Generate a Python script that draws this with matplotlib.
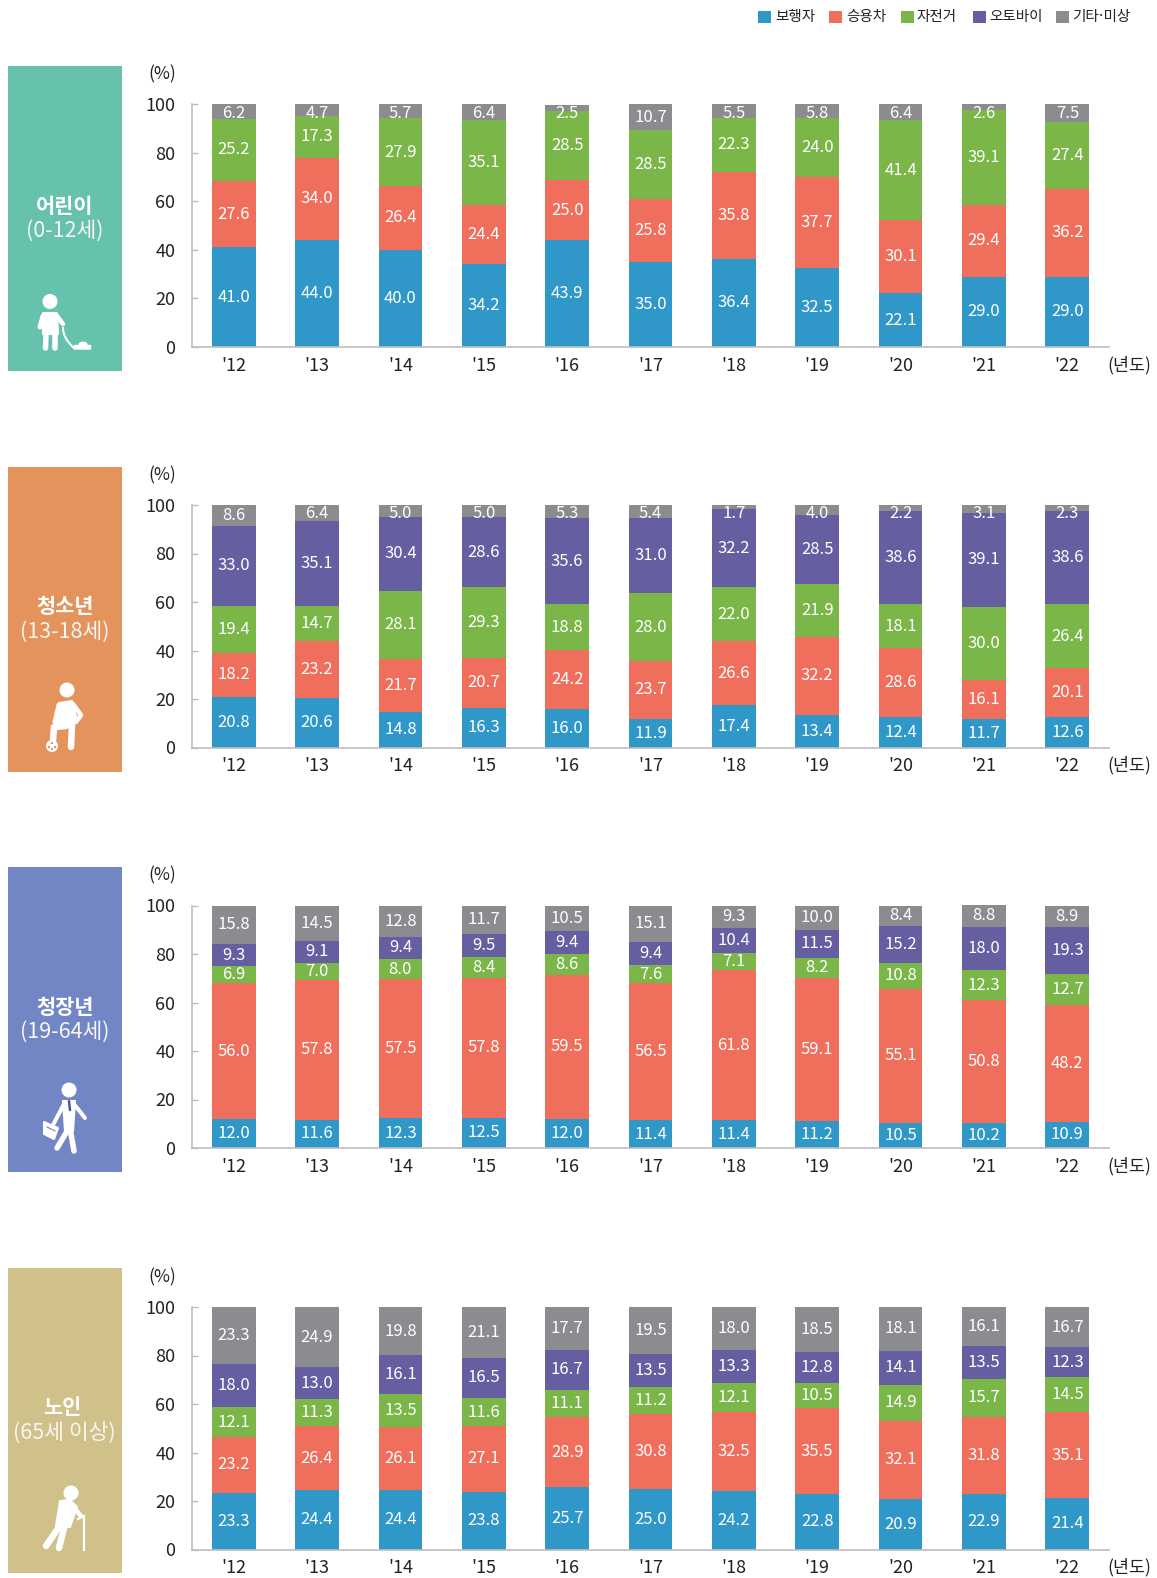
import matplotlib
matplotlib.use("Agg")
import matplotlib.pyplot as plt
import matplotlib.patches as mpatches
import numpy as np

plt.rcParams['font.family'] = ['Noto Sans CJK KR', 'DejaVu Sans']

W, H = 1157, 1578

years = ["'12", "'13", "'14", "'15", "'16", "'17", "'18", "'19", "'20", "'21", "'22"]
series_names = ['보행자', '승용차', '자전거', '오토바이', '기타·미상']
colors = ['#3098C9', '#EF6F5C', '#7AB648', '#655FA1', '#8C8C90']

# 어린이: no 오토바이 segment in this group
child_walk = [41.0, 44.0, 40.0, 34.2, 43.9, 35.0, 36.4, 32.5, 22.1, 29.0, 29.0]
child_car = [27.6, 34.0, 26.4, 24.4, 25.0, 25.8, 35.8, 37.7, 30.1, 29.4, 36.2]
child_bike = [25.2, 17.3, 27.9, 35.1, 28.5, 28.5, 22.3, 24.0, 41.4, 39.1, 27.4]
child_moto = [0] * 11
child_etc = [6.2, 4.7, 5.7, 6.4, 2.5, 10.7, 5.5, 5.8, 6.4, 2.6, 7.5]

teen_walk = [20.8, 20.6, 14.8, 16.3, 16.0, 11.9, 17.4, 13.4, 12.4, 11.7, 12.6]
teen_car = [18.2, 23.2, 21.7, 20.7, 24.2, 23.7, 26.6, 32.2, 28.6, 16.1, 20.1]
teen_bike = [19.4, 14.7, 28.1, 29.3, 18.8, 28.0, 22.0, 21.9, 18.1, 30.0, 26.4]
teen_moto = [33.0, 35.1, 30.4, 28.6, 35.6, 31.0, 32.2, 28.5, 38.6, 39.1, 38.6]
teen_etc = [8.6, 6.4, 5.0, 5.0, 5.3, 5.4, 1.7, 4.0, 2.2, 3.1, 2.3]

adult_walk = [12.0, 11.6, 12.3, 12.5, 12.0, 11.4, 11.4, 11.2, 10.5, 10.2, 10.9]
adult_car = [56.0, 57.8, 57.5, 57.8, 59.5, 56.5, 61.8, 59.1, 55.1, 50.8, 48.2]
adult_bike = [6.9, 7.0, 8.0, 8.4, 8.6, 7.6, 7.1, 8.2, 10.8, 12.3, 12.7]
adult_moto = [9.3, 9.1, 9.4, 9.5, 9.4, 9.4, 10.4, 11.5, 15.2, 18.0, 19.3]
adult_etc = [15.8, 14.5, 12.8, 11.7, 10.5, 15.1, 9.3, 10.0, 8.4, 8.8, 8.9]

old_walk = [23.3, 24.4, 24.4, 23.8, 25.7, 25.0, 24.2, 22.8, 20.9, 22.9, 21.4]
old_car = [23.2, 26.4, 26.1, 27.1, 28.9, 30.8, 32.5, 35.5, 32.1, 31.8, 35.1]
old_bike = [12.1, 11.3, 13.5, 11.6, 11.1, 11.2, 12.1, 10.5, 14.9, 15.7, 14.5]
old_moto = [18.0, 13.0, 16.1, 16.5, 16.7, 13.5, 13.3, 12.8, 14.1, 13.5, 12.3]
old_etc = [23.3, 24.9, 19.8, 21.1, 17.7, 19.5, 18.0, 18.5, 18.1, 16.1, 16.7]

groups = [
    ('어린이', '(0-12세)', '#66C2AC', [child_walk, child_car, child_bike, child_moto, child_etc]),
    ('청소년', '(13-18세)', '#E3935B', [teen_walk, teen_car, teen_bike, teen_moto, teen_etc]),
    ('청장년', '(19-64세)', '#7286C6', [adult_walk, adult_car, adult_bike, adult_moto, adult_etc]),
    ('노인', '(65세 이상)', '#D0C18A', [old_walk, old_car, old_bike, old_moto, old_etc]),
]

rect_tops = [66, 466.7, 867, 1268]
axis_tops = [104.4, 505, 905.5, 1307]
axis_h = 242.5
axis_left, axis_right = 192, 1109

fig = plt.figure(figsize=(W / 100, H / 100), dpi=100, facecolor='white')

# overlay in pixel coords for side panels, icons and legend
bg = fig.add_axes([0, 0, 1, 1], zorder=0)
bg.set_xlim(0, W)
bg.set_ylim(H, 0)
bg.axis('off')


def limb(pts, lw=5.0, color='white', z=3):
    xs, ys = zip(*pts)
    bg.plot(xs, ys, color=color, lw=lw * 0.72, solid_capstyle='round', solid_joinstyle='round', zorder=z)


def blob(pts, color='white', z=3):
    bg.add_patch(mpatches.Polygon(pts, closed=True, fc=color, ec=color, lw=1.5, joinstyle='round', zorder=z))


def head(x, y, r):
    bg.add_patch(mpatches.Ellipse((x, y), 2 * r, 2 * r, fc='white', ec='none', zorder=3))


def icon_child():
    head(50, 301.5, 7.5)
    blob([(43, 313), (57, 313), (58, 334), (43, 334)])
    limb([(43, 316), (40, 327)], 5)
    limb([(57, 316), (63, 324)], 4.5)
    limb([(46, 333), (45.5, 348)], 5.5)
    limb([(54.5, 333), (54.5, 348)], 5.5)
    t = np.linspace(0, 1, 12)
    bg.plot(63 + 11 * t ** 2, 328 + 20 * t, color='white', lw=1.5, zorder=3)
    bg.add_patch(mpatches.FancyBboxPatch((75, 346), 15, 2.5, boxstyle='round,pad=1.2', fc='white', ec='none', zorder=3))
    bg.add_patch(mpatches.Ellipse((83, 344.5), 9, 6, fc='white', ec='none', zorder=3))


def icon_teen():
    head(67, 690, 7.5)
    blob([(59, 703), (72, 701), (76, 716), (73, 727), (56, 727)])
    limb([(59, 705), (55, 722)], 5)
    limb([(73, 704), (81, 715), (76, 722)], 4.5)
    limb([(72, 725), (71, 747)], 6.5)
    limb([(66, 726), (54, 727), (53, 741)], 6.5)
    bg.add_patch(mpatches.Circle((52, 746), 6, fc='white', ec='none', zorder=4))
    for dx, dy in [(0, -3), (-3, 1), (3, 1), (0, 3)]:
        bg.add_patch(mpatches.Circle((52 + dx, 746 + dy), 1.2, fc='#E3935B', ec='none', zorder=5))


def icon_adult():
    head(69, 1090, 7.5)
    blob([(63, 1101), (75, 1101), (73, 1131), (65, 1131)])
    limb([(64, 1104), (53, 1125)], 4)
    limb([(74, 1104), (85, 1118)], 4)
    limb([(69, 1128), (57, 1148)], 5.5)
    limb([(70, 1128), (74, 1151)], 5.5)
    limb([(69, 1101), (70, 1110)], 2.5, color='#4D5A9A', z=4)
    blob([(44, 1122), (58, 1128), (54, 1139), (44, 1134)])
    bg.plot([47, 55], [1127, 1131], color='#7286C6', lw=0.8, zorder=4)


def icon_old():
    head(71, 1493, 7.5)
    blob([(60, 1501), (70, 1500), (77, 1507), (70, 1527), (56, 1526)])
    limb([(70, 1503), (81, 1516)], 4.5)
    limb([(61, 1524), (46, 1546)], 6.5)
    limb([(65, 1524), (59, 1548)], 6.5)
    bg.plot([84, 84], [1517, 1550], color='white', lw=1.6, zorder=3)
    bg.plot([78, 84], [1519, 1516], color='white', lw=1.6, zorder=3)


icons = [icon_child, icon_teen, icon_adult, icon_old]

for i, (name, sub, rect_c, rows) in enumerate(groups):
    top = rect_tops[i]
    bg.add_patch(mpatches.Rectangle((8, top), 113.5, 305, fc=rect_c, ec='none', zorder=1))
    nx = 62 if i == 3 else 64.5
    bg.text(nx, top + 140, name, color='white', fontsize=15, fontweight='bold', ha='center', va='center', zorder=3)
    bg.text(nx + (2 if i == 3 else 0), top + 165, sub, color='#F7F7F2', fontsize=15.5, fontweight='light', ha='center', va='center', zorder=3)
    icons[i]()

    y_top = axis_tops[i]
    ax = fig.add_axes([axis_left / W, 1 - (y_top + axis_h) / H, (axis_right - axis_left) / W, axis_h / H], zorder=2)
    ax.patch.set_alpha(0)
    x = np.arange(len(years))
    bottom = np.zeros(len(years))
    for k, vals in enumerate(rows):
        vals = np.asarray(vals, dtype=float)
        ax.bar(x, vals, 0.525, bottom=bottom, color=colors[k], linewidth=0, clip_on=False)
        for j, v in enumerate(vals):
            if v == 0:
                continue
            yc = bottom[j] + v / 2
            if k == 4:
                # thin top segments still get a readable label, it spills downward
                yc = min(yc, 96.3)
            ax.text(x[j], yc, f'{v:.1f}', color='white', fontsize=12, ha='center', va='center', zorder=5)
        bottom = bottom + vals

    ax.set_xlim(-0.5, 10.5)
    ax.set_ylim(0, 100)
    ax.set_yticks(range(0, 101, 20))
    ax.set_xticks(x)
    ax.set_xticklabels(years)
    ax.tick_params(axis='x', length=0, pad=7, labelsize=13, labelcolor='#222222')
    ax.tick_params(axis='y', direction='in', length=4, width=1, color='#BDBDBD', pad=12, labelsize=13, labelcolor='#222222')
    for s in ['top', 'right']:
        ax.spines[s].set_visible(False)
    for s in ['left', 'bottom']:
        ax.spines[s].set_color('#BDBDBD')
        ax.spines[s].set_linewidth(1.2)
    ax.set_axisbelow(True)

    bg.text(162.5, y_top - 30, '(%)', color='#222222', fontsize=12.5, ha='center', va='center')
    bg.text(1129, y_top + axis_h + 18, '(년도)', color='#222222', fontsize=12.5, ha='center', va='center')

# legend row
swatch_x = [758, 829, 901, 973, 1056]
label_x = [775, 846, 916, 989, 1072]
for sx, lx, c, n in zip(swatch_x, label_x, colors, series_names):
    bg.add_patch(mpatches.Rectangle((sx, 11), 12.5, 12, fc=c, ec='none'))
    bg.text(lx, 16.5, n, color='#222222', fontsize=10.5, ha='left', va='center',
            family=['DejaVu Sans', 'Noto Sans CJK KR'])

fig.savefig('out.png', dpi=100)
